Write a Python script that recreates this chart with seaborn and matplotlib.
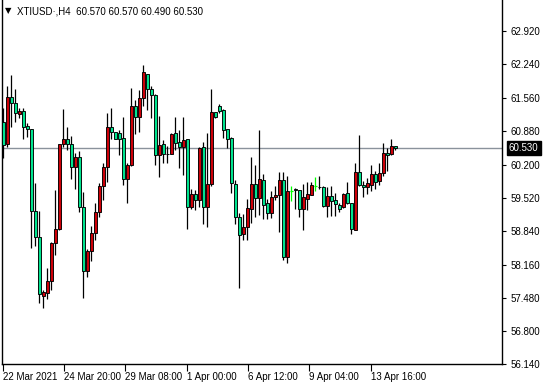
import numpy as np
import pandas as pd
import matplotlib
matplotlib.use("Agg")
import matplotlib.pyplot as plt
import seaborn as sns

# ---------------- data (H4 candles) ----------------
opens = [61.07, 60.61, 61.57, 61.45, 61.23, 61.29, 60.98, 60.92, 59.25, 58.73,
         57.53, 57.59, 57.82, 58.60, 58.88, 60.61, 60.73, 60.61, 60.14, 60.35,
         59.34, 58.04, 58.43, 58.80, 59.23, 59.76, 60.14, 60.96, 60.86, 60.84,
         60.75, 59.90, 60.19, 61.39, 61.17, 61.55, 62.04, 61.73, 61.62, 60.39,
         60.61, 60.42, 60.42, 60.85, 60.65, 60.56, 60.71, 59.33, 59.60, 59.48,
         60.55, 59.33, 59.80, 61.26, 61.39, 61.31, 60.92, 60.75, 59.80, 59.14,
         58.78, 58.93, 59.30, 59.80, 59.51, 59.89, 59.42, 59.21, 59.53, 59.58,
         59.89, 58.31, 59.67, 59.70, 59.68, 59.29, 59.50, 59.58, 59.77, 59.75,
         59.74, 59.36, 59.55, 59.48, 59.38, 59.33, 59.62, 59.41, 58.87, 60.05,
         59.78, 59.74, 59.79, 60.01, 59.86, 60.03, 60.44, 60.41, 60.57]
highs = [61.35, 61.80, 62.02, 61.74, 61.36, 61.35, 61.05, 60.93, 59.82, 59.25,
         57.65, 58.09, 58.63, 59.68, 60.62, 61.33, 60.96, 60.78, 60.44, 60.47,
         59.64, 58.48, 58.95, 59.42, 59.83, 60.23, 61.24, 61.35, 60.87, 60.90,
         61.16, 60.23, 61.75, 61.51, 61.72, 62.23, 62.05, 61.79, 61.63, 61.19,
         60.70, 60.58, 60.84, 61.16, 60.90, 61.16, 60.72, 59.70, 59.68, 60.55,
         60.66, 60.85, 61.73, 61.27, 61.43, 61.33, 60.93, 60.76, 59.89, 59.21,
         59.19, 59.50, 60.35, 60.19, 60.90, 60.01, 59.50, 59.66, 59.77, 60.05,
         60.05, 59.97, 59.76, 59.73, 59.69, 59.80, 59.84, 59.84, 59.95, 59.97,
         59.76, 59.74, 59.77, 59.62, 59.42, 59.62, 59.84, 59.42, 60.23, 60.80,
         59.87, 59.93, 60.19, 60.07, 60.24, 60.64, 60.54, 60.71, 60.57]
lows = [60.34, 60.55, 60.97, 61.07, 61.14, 60.71, 60.76, 58.49, 58.54, 57.38,
        57.27, 57.47, 57.65, 58.36, 58.87, 60.55, 60.49, 59.90, 59.70, 59.24,
        57.48, 57.90, 58.24, 58.66, 59.13, 59.48, 59.84, 60.73, 60.72, 60.39,
        59.78, 59.42, 60.18, 60.82, 60.87, 61.39, 61.31, 61.15, 60.19, 59.95,
        60.23, 60.23, 60.41, 60.50, 60.12, 59.99, 58.88, 59.29, 59.27, 59.33,
        58.99, 58.93, 59.77, 61.15, 61.25, 60.74, 60.54, 59.61, 58.99, 57.69,
        58.66, 58.66, 59.00, 59.14, 59.17, 59.09, 59.10, 59.11, 59.48, 58.83,
        58.26, 58.19, 59.46, 59.29, 59.13, 58.87, 59.27, 59.57, 59.67, 59.71,
        59.33, 59.14, 59.16, 59.16, 59.24, 59.32, 59.40, 58.78, 58.86, 59.77,
        59.53, 59.60, 59.66, 59.70, 59.78, 59.97, 60.07, 60.39, 60.49]
closes = [60.60, 61.57, 61.45, 61.24, 61.29, 60.97, 60.92, 59.25, 58.73, 57.56,
          57.60, 57.83, 58.60, 58.88, 60.61, 60.73, 60.61, 60.14, 60.35, 59.33,
          58.04, 58.43, 58.80, 59.23, 59.76, 60.14, 60.96, 60.86, 60.73, 60.73,
          59.90, 60.19, 61.39, 61.17, 61.55, 62.08, 61.73, 61.62, 60.39, 60.60,
          60.41, 60.41, 60.83, 60.63, 60.56, 60.69, 59.33, 59.60, 59.48, 60.53,
          59.33, 59.80, 61.26, 61.17, 61.28, 60.90, 60.73, 59.82, 59.14, 58.77,
          58.93, 59.31, 59.80, 59.51, 59.90, 59.38, 59.22, 59.53, 59.58, 59.89,
          58.32, 59.66, 59.67, 59.69, 59.29, 59.53, 59.60, 59.78, 59.77, 59.74,
          59.36, 59.56, 59.46, 59.39, 59.30, 59.59, 59.41, 58.88, 60.04, 59.78,
          59.74, 59.82, 60.01, 59.85, 60.03, 60.44, 60.40, 60.57, 60.53]

date_labels = ["22 Mar 2021", "24 Mar 20:00", "29 Mar 08:00", "1 Apr 00:00",
               "6 Apr 12:00", "9 Apr 04:00", "13 Apr 16:00"]
date_label_bars = [0, 15.2, 30.5, 45.85, 61.2, 76.5, 91.85]
price_ticks = [62.92, 62.24, 61.56, 60.88, 60.20, 59.52, 58.84, 58.16,
               57.48, 56.80, 56.14]
symbol = "XTIUSD\u00b7,H4"
last_bar = [60.570, 60.570, 60.490, 60.530]
last_price = 60.530

# ---------------- styling ----------------
sns.set_theme(style="ticks")
plt.rcParams["font.family"] = ["Liberation Sans", "DejaVu Sans"]

UP_FILL = "#cc0008"
DOWN_FILL = "#00e38e"
FLAT = "#00ff00"

df = pd.DataFrame({"bar": np.arange(len(opens)), "open": opens, "high": highs,
                   "low": lows, "close": closes})
df["flat"] = df["open"] == df["close"]
df["body_lo"] = df[["open", "close"]].min(axis=1)
df["body_h"] = (df["close"] - df["open"]).abs()
df["fill"] = np.where(df["close"] > df["open"], UP_FILL, DOWN_FILL)

fig = plt.figure(figsize=(5.46, 3.85), dpi=100)
fig.patch.set_facecolor("white")
ax = fig.add_axes([2 / 546, 21 / 385, 500 / 546, 364 / 385])
ax.set_facecolor("white")

# current price line (behind the candles)
ax.axhline(last_price, color="#8a929c", lw=1.0, zorder=1)

normal = df[~df["flat"]]
flat = df[df["flat"]]
ax.vlines(normal["bar"], normal["low"], normal["high"], color="black",
          lw=0.9, zorder=2)
ax.bar(normal["bar"], normal["body_h"], bottom=normal["body_lo"], width=0.66,
       color=normal["fill"], edgecolor="black", linewidth=0.65, zorder=3)
ax.vlines(flat["bar"], flat["low"], flat["high"], color=FLAT, lw=0.9, zorder=3)
ax.hlines(flat["open"], flat["bar"] - 0.4, flat["bar"] + 0.4, color=FLAT,
          lw=0.9, zorder=3)

ax.set_xlim(-0.325, 124.675)
ax.set_ylim(56.137, 63.551)

for side in ["left", "right", "bottom"]:
    ax.spines[side].set_visible(True)
    ax.spines[side].set_color("black")
    ax.spines[side].set_linewidth(1.0)
ax.spines["top"].set_visible(False)

ax.yaxis.tick_right()
ax.set_yticks(price_ticks)
ax.set_yticklabels([f"{v:.3f}" for v in price_ticks])
ax.tick_params(axis="y", which="both", left=False, right=True, direction="out",
               length=3, width=0.8, pad=3, labelsize=7, colors="black")

ax.set_xticks(date_label_bars)
ax.set_xticklabels(date_labels)
for lab in ax.get_xticklabels():
    lab.set_horizontalalignment("left")
ax.tick_params(axis="x", which="both", bottom=True, top=False, direction="out",
               length=5, width=0.8, pad=1, labelsize=7, colors="black")
ax.set_xlabel("")
ax.set_ylabel("")
ax.grid(False)

# price label on the right axis
ax.annotate(f"{last_price:.3f}", xy=(1.0, last_price),
            xycoords=("axes fraction", "data"), xytext=(5, 0),
            textcoords="offset points", va="center", ha="left",
            fontsize=7, color="white", annotation_clip=False,
            bbox=dict(boxstyle="square,pad=0.2", fc="black", ec="black"))

# header
fig.text(5 / 546, 1 - 11 / 385, "\u25bc", fontsize=6, va="center",
         ha="left", color="black", family=["DejaVu Sans"])
fig.text(17 / 546, 1 - 11 / 385,
         symbol + "  " + " ".join(f"{v:.3f}" for v in last_bar),
         fontsize=7, va="center", ha="left", color="black")

fig.savefig("out.png", dpi=100, facecolor="white")
